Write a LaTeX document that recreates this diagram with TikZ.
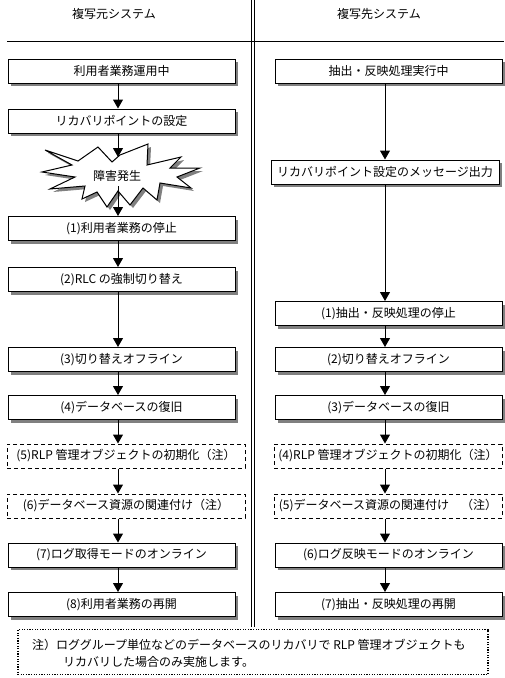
\documentclass[tikz,border=0pt]{standalone}
\usepackage{fontspec}
\setmainfont{Noto Sans CJK JP}
\usetikzlibrary{shadows,arrows.meta,calc}
\begin{document}
\begin{tikzpicture}[x=1pt,y=-1pt,
  every node/.style={font=\fontsize{12}{14}\selectfont, inner sep=0pt},
  box/.style={draw, line width=1pt, fill=white, minimum width=227pt, minimum height=24pt,
    drop shadow={shadow xshift=3pt, shadow yshift=-3pt, fill=black!50, opacity=1}},
  dbox/.style={draw, line width=1pt, dash pattern=on 4pt off 3pt, fill=white, minimum height=24pt},
  arr/.style={line width=1pt, -{Triangle[width=10pt,length=9pt]}},
  ttl/.style={font=\fontsize{12}{14}\selectfont},
]
\useasboundingbox (0,0) rectangle (504,678);
\fill[white] (0,0) rectangle (504,678);

% column guides
\coordinate (colL) at (118,0);
\coordinate (colR) at (385,0);

% frame lines
\draw[line width=1pt] (251,0) -- (251,627);
\draw[line width=1pt] (254,0) -- (254,627);
\draw[line width=1pt] (7,41) -- (504,41);

% titles
\node[ttl] (tL) at (114,14) {複写元システム};
\node[ttl] (tR) at (379,14) {複写先システム};

% left column
\node[box] (L0) at (121.5,71) {利用者業務運用中};
\node[box] (L1) at (121.5,121) {リカバリポイントの設定};

% starburst
\fill[black!50, shift={(3,3)}]
  (45,150) -- (78,161) -- (98,147) -- (112,162) -- (120,155) -- (148,144) -- (147,165)
  -- (181,157) -- (170,168) -- (200,168) -- (177,177) -- (191,188) -- (160,183)
  -- (157,200) -- (143,188) -- (130,205) -- (118,191) -- (107,207) -- (97,192)
  -- (82,199) -- (85,186) -- (50,189) -- (75,177) -- (42,172) -- (72,165) -- cycle;
\draw[line width=1pt, fill=white]
  (45,150) -- (78,161) -- (98,147) -- (112,162) -- (120,155) -- (148,144) -- (147,165)
  -- (181,157) -- (170,168) -- (200,168) -- (177,177) -- (191,188) -- (160,183)
  -- (157,200) -- (143,188) -- (130,205) -- (118,191) -- (107,207) -- (97,192)
  -- (82,199) -- (85,186) -- (50,189) -- (75,177) -- (42,172) -- (72,165) -- cycle;
\node (S) at (117,176) {障害発生};
\coordinate (st) at (118,157);
\coordinate (sb) at (118,186);

\node[box] (L2) at (121.5,228.5) {(1)利用者業務の停止};
\node[box] (L3) at (121.5,279.5) {(2)RLC の強制切り替え};
\node[box] (L4) at (121.5,359.5) {(3)切り替えオフライン};
\node[box] (L5) at (121.5,407.5) {(4)データベースの復旧};
\node[dbox, minimum width=238pt] (L6) at (126,456) {(5)RLP 管理オブジェクトの初期化（注）};
\node[dbox, minimum width=238pt] (L7) at (126,506) {(6)データベース資源の関連付け（注）};
\node[box] (L8) at (121.5,555) {(7)ログ取得モードのオンライン};
\node[box] (L9) at (121.5,604.5) {(8)利用者業務の再開};

% right column
\node[box] (R0) at (388.5,71) {抽出・反映処理実行中};
\node[box, minimum width=228pt] (R1) at (385,172) {リカバリポイント設定のメッセージ出力};
\node[box] (R2) at (388.5,313.5) {(1)抽出・反映処理の停止};
\node[box] (R3) at (388.5,359.5) {(2)切り替えオフライン};
\node[box] (R4) at (388.5,407.5) {(3)データベースの復旧};
\node[dbox, minimum width=228pt] (R5) at (388,456) {(4)RLP 管理オブジェクトの初期化（注）};
\node[dbox, minimum width=228pt] (R6) at (388,506) {(5)データベース資源の関連付け　（注）};
\node[box] (R7) at (388.5,555) {(6)ログ反映モードのオンライン};
\node[box] (R8) at (388.5,604.5) {(7)抽出・反映処理の再開};

% left arrows
\draw[arr] (L0.south -| colL) -- (L1.north -| colL);
\draw[arr] (L1.south -| colL) -- (st);
\draw[arr] (sb) -- (L2.north -| colL);
\draw[arr] (L2.south -| colL) -- (L3.north -| colL);
\draw[arr] (L3.south -| colL) -- (L4.north -| colL);
\draw[arr] (L4.south -| colL) -- (L5.north -| colL);
\draw[arr] (L5.south -| colL) -- (L6.north -| colL);
\draw[arr] (L6.south -| colL) -- (L7.north -| colL);
\draw[arr] (L7.south -| colL) -- (L8.north -| colL);
\draw[arr] (L8.south -| colL) -- (L9.north -| colL);

% right arrows
\draw[arr] (R0.south -| colR) -- (R1.north -| colR);
\draw[arr] (R1.south -| colR) -- (R2.north -| colR);
\draw[arr] (R2.south -| colR) -- (R3.north -| colR);
\draw[arr] (R3.south -| colR) -- (R4.north -| colR);
\draw[arr] (R4.south -| colR) -- (R5.north -| colR);
\draw[arr] (R5.south -| colR) -- (R6.north -| colR);
\draw[arr] (R6.south -| colR) -- (R7.north -| colR);
\draw[arr] (R7.south -| colR) -- (R8.north -| colR);

% note
\node[draw, line width=1.2pt, dash pattern=on 1.2pt off 1.4pt, minimum width=470pt, minimum height=45pt] (note) at (253,652) {};
\node[anchor=west] (n1) at (32,645) {注）ロググループ単位などのデータベースのリカバリで RLP 管理オブジェクトも};
\node[anchor=west] (n2) at (63,662) {リカバリした場合のみ実施します。};
\end{tikzpicture}
\end{document}
